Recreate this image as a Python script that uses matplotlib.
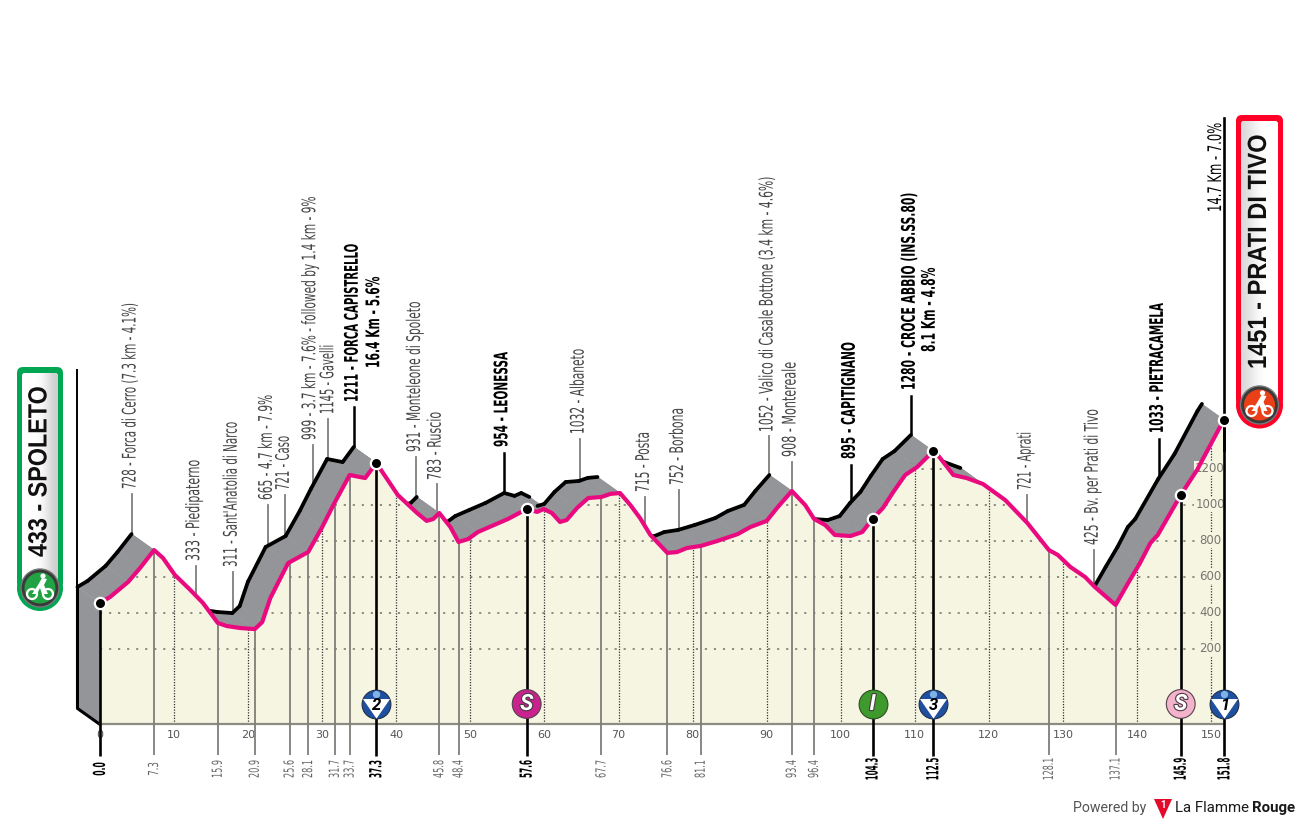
import numpy as np
import matplotlib
matplotlib.use('Agg')
import matplotlib.pyplot as plt
from matplotlib.patches import Circle, FancyBboxPatch, Polygon
from matplotlib.patheffects import AbstractPathEffect, withStroke
from matplotlib.transforms import Affine2D, blended_transform_factory

# race profile (pink line)
dist_km = [0, 1.35, 3.8, 5.4, 7.3, 8.5, 10.1, 12.2, 13.9, 15.9, 17.1, 18.9, 20.9, 21.9, 23.0, 25.4, 28.1,
           30.0, 31.5, 33.7, 35.8, 37.3, 40.2, 42.8, 44.1, 45.0, 45.8, 47.3, 48.4, 49.7, 51.0, 52.9, 55.1,
           57.6, 59.0, 59.9, 61.0, 62.1, 63.0, 64.4, 65.9, 67.7, 68.9, 70.2, 71.6, 72.9, 74.3, 76.6, 77.9,
           79.2, 81.1, 83.3, 86.1, 87.8, 90.0, 91.5, 93.4, 95.2, 96.4, 97.9, 99.2, 101.3, 102.9, 104.3,
           105.7, 107.1, 108.7, 110.3, 112.5, 113.1, 115.2, 117.0, 119.2, 122.2, 125.2, 128.1, 129.3,
           131.0, 133.0, 134.3, 137.1, 138.8, 140.4, 141.8, 142.8, 145.9, 148.1, 151.2, 151.8]
elev_m = [454, 487, 571, 648, 748, 704, 610, 526, 454, 343, 326, 315, 309, 348, 482, 676, 737,
          876, 998, 1165, 1148, 1232, 1054, 954, 910, 921, 954, 876, 793, 809, 848, 882, 921,
          976, 960, 976, 954, 904, 915, 982, 1037, 1043, 1060, 1065, 998, 926, 832, 732, 737,
          759, 771, 798, 837, 876, 910, 987, 1076, 998, 921, 887, 832, 826, 848, 921,
          982, 1071, 1165, 1209, 1298, 1276, 1165, 1148, 1115, 1026, 898, 748, 721,
          654, 598, 543, 443, 565, 676, 787, 832, 1054, 1193, 1432, 1471]

km_ticks = [0, 10, 20, 30, 40, 50, 60, 70, 80, 90, 100, 110, 120, 130, 140, 150]
alt_ticks = [200, 400, 600, 800, 1000, 1200]

# kilometre points along the bottom
point_km = ['7.3', '15.9', '20.9', '25.6', '28.1', '31.7', '33.7', '45.8', '48.4', '67.7', '76.6', '81.1',
            '93.4', '96.4', '128.1', '137.1']
main_km = ['0.0', '37.3', '57.6', '104.3', '112.5', '145.9', '151.8']

# names above the profile, with the km their stem stands at
place_names = ['728 - Forca di Cerro (7.3 km - 4.1%)', '333 - Piedipaterno', "311 - Sant'Anatolia di Narco",
               '665 - 4.7 km - 7.9%', '721 - Caso', '999 - 3.7 km - 7.6% - followed by 1.4 km - 9%',
               '1145 - Gavelli', '931 - Monteleone di Spoleto', '783 - Ruscio', '1032 - Albaneto',
               '715 - Posta', '752 - Borbona', '1052 - Valico di Casale Bottone (3.4 km - 4.6%)',
               '908 - Montereale', '721 - Aprati', '425 - Bv. per Prati di Tivo']
place_km = [4.3, 12.9, 17.96, 22.7, 25.0, 28.7, 30.8, 42.7, 45.5, 64.8, 73.6, 78.2, 90.3, 93.4, 125.15, 134.2]
main_names = ['1211 - FORCA CAPISTRELLO', '954 - LEONESSA', '895 - CAPITIGNANO',
              '1280 - CROCE ABBIO (INS.SS.80)', '1033 - PIETRACAMELA']
main_name_km = [34.3, 54.5, 101.4, 109.5, 143.0]

# layout in pixels: stem top, text bottom, text top, nudge across
place_pos = [(494, 489, 303, 0), (566, 561, 460, 0), (572, 567, 422, 0), (505, 500, 395, 0), (495, 490, 436, 0),
             (445, 440, 197, -1), (419, 414, 345, 1.5), (457, 452, 302, 0), (484, 480, 412, 0), (439, 434, 349, 0),
             (497, 492, 432, 0), (490, 485, 408, 0), (436, 432, 177, 0), (462, 457, 362, 0), (495, 490, 432, 0),
             (550, 545, 409, 0)]
main_pos = [(407, 402, 244), (453, 447, 352), (465, 459, 342), (396, 390, 193), (439, 433, 303)]

GREY = '#939598'
PINK = '#ea0a80'
PALE = '#f5f5e2'
STEM = '#7f7f7a'
NARROW = ['Liberation Sans Narrow', 'DejaVu Sans']
BOLD_FONT = ['Roboto', 'DejaVu Sans']
BADGE_FONT = ['Liberation Sans', 'DejaVu Sans']

BASE_M = -221          # altitude of the bottom line
SHIFT_KM = -3.04       # offset of the grey wall
SHIFT_M = 89
MEDAL_M = -107
PX_KM = 7.407


class Squeeze(AbstractPathEffect):
    # the lettering of the original is much narrower than any installed font
    def __init__(self, pivot, k):
        super().__init__()
        self.pivot = pivot
        self.k = k

    def draw_path(self, renderer, gc, tpath, affine, rgbFace=None):
        a = affine + Affine2D().translate(0, -self.pivot).scale(1, self.k).translate(0, self.pivot)
        renderer.draw_path(gc, tpath, a, rgbFace)


fig = plt.figure(figsize=(13, 8.25), dpi=100)
ax = fig.add_axes([0, 0, 1, 1])
ax.set_xlim(-13.5, 162.0)
ax.set_ylim(-779.5, 3804)
ax.axis('off')
pix = fig.add_axes([0, 0, 1, 1], zorder=5)
pix.set_xlim(0, 1300)
pix.set_ylim(825, 0)
pix.axis('off')
pix.patch.set_alpha(0)
km_px = blended_transform_factory(ax.transData, pix.transData)
renderer = fig.canvas.get_renderer()


def vtext(x, bottom, top, s, size=13.5, color='#444444', weight='normal', family=NARROW, on=None, z=12):
    mid = (bottom + top) / 2
    target = on if on is not None else ax
    t = target.text(x, mid, s, rotation=90, ha='center', va='center', fontsize=size, color=color, weight=weight,
                    family=family, transform=target.transData if on is not None else km_px, zorder=z)
    k = (bottom - top) / t.get_window_extent(renderer).height
    t.set_path_effects([Squeeze(825 - mid, k)])
    return t


x = np.array(dist_km)
y = np.array(elev_m)
sx = x + SHIFT_KM
sy = y + SHIFT_M

# grey wall, black edge only where it is not hidden behind the front
for i in range(len(x) - 1):
    ax.fill([x[i], x[i + 1], sx[i + 1], sx[i]], [y[i], y[i + 1], sy[i + 1], sy[i]],
            color=GREY, lw=0.4, zorder=2)
    if (y[i] - y[i + 1]) / (x[i + 1] - x[i]) < SHIFT_M / -SHIFT_KM:
        ax.plot(sx[i:i + 2], sy[i:i + 2], color='k', lw=2.7, solid_capstyle='round', zorder=3)
ax.fill([0, 0, SHIFT_KM, SHIFT_KM], [BASE_M, y[0], sy[0], BASE_M + SHIFT_M], color=GREY, lw=0, zorder=2)
ax.plot([SHIFT_KM, SHIFT_KM, 0], [sy[0], BASE_M + SHIFT_M, BASE_M], color='k', lw=2.2, zorder=3)
ax.plot([SHIFT_KM, SHIFT_KM], [sy[0], (684.7 - 370) * 5.556], color='k', lw=1.4, zorder=3)

front = Polygon(np.vstack([np.column_stack([x, y]), [[x[-1], BASE_M], [0, BASE_M]]]),
                closed=True, fc=PALE, ec='none', zorder=4)
ax.add_patch(front)

# altitude grid, clipped to the front
for alt in alt_ticks:
    ln, = ax.plot([0, x[-1]], [alt, alt], color='#85857c', lw=1.3, ls=(0, (1.2, 3.8)), zorder=5)
    ln.set_clip_path(front)
    ax.text(x[-1] - 1.95, alt, str(alt), ha='center', va='center', fontsize=8.5, color='#77776f', family=NARROW,
            zorder=6, bbox=dict(fc=PALE, ec='none', pad=0.8))

for k in km_ticks[1:]:
    ax.vlines(k, BASE_M, np.interp(k, x, y), color='#333333', lw=0.9, ls=(0, (1, 1.2)), zorder=5)
for k in km_ticks:
    ax.text(k, (684.7 - 735) * 5.556, str(k), ha='center', va='center', fontsize=8, color='#555555',
            family=NARROW, zorder=6)

ax.plot([0, x[-1]], [BASE_M, BASE_M], color='#8c8c82', lw=1.6, zorder=6)

# stems above the profile, the wall and the front hide their lower ends
for km, s, (st, b, tp, nudge) in zip(place_km, place_names, place_pos):
    ax.plot([km, km], [st, 700], color=STEM, lw=1.3, transform=km_px, zorder=1)
    vtext(km - 0.25 + nudge / PX_KM, b, tp, s)
for km, s, (st, b, tp) in zip(main_name_km, main_names, main_pos):
    ax.plot([km, km], [st, 700], color='k', lw=1.8, transform=km_px, zorder=1)
    vtext(km - 0.25, b, tp, s, color='k', weight='bold')
vtext(36.95, 368, 277, '16.4 Km - 5.6%', color='k', weight='bold')
vtext(111.95, 352, 268, '8.1 Km - 4.8%', color='k', weight='bold')
vtext(150.6, 212, 123, '14.7 Km - 7.0%', color='k')

# stems below the profile
for s in point_km:
    km = float(s)
    ax.vlines(km, 755, 684.7 - np.interp(km, x, y) * 0.18, color=STEM, lw=1.3, transform=km_px, zorder=6)
    vtext(km, 769 + len(s) * 2.25, 769 - len(s) * 2.25, s, size=10, color='#666666')
for s in main_km:
    km = float(s)
    ax.vlines(km, 756, 684.7 - np.interp(km, x, y) * 0.18, color='k', lw=1.9, transform=km_px, zorder=6)
    vtext(km, 769 + len(s) * 2.25, 769 - len(s) * 2.25, s, size=12, color='k', weight='bold')
ax.plot([x[-1], x[-1]], [118, 450], color='k', lw=1.9, transform=km_px, zorder=6)

ax.plot(x, y, color=PINK, lw=3.0, solid_capstyle='round', solid_joinstyle='round', zorder=7)

# route points
main_vals = [float(s) for s in main_km]
main_alts = np.interp(main_vals, x, y)
ax.scatter(main_vals, main_alts, s=95, color='white', lw=0, zorder=8)
ax.scatter(main_vals, main_alts, s=42, color='k', lw=0, zorder=9)

# medals
kom_km = [37.3, 112.5, 151.8]
kom_labels = ['2', '3', '1']
sprint_km = [57.6, 145.9]
sprint_labels = ['S', 'S']
sprint_colors = ['#c9228e', '#f3b3cb']
inter_km = [104.3]
inter_labels = ['I']
MEDAL_S = 430
TRI = [(-1, 0.7), (1, 0.7), (0, -0.75)]
outline = [withStroke(linewidth=1.6, foreground='#4a3a44')]

ax.scatter(kom_km, [MEDAL_M] * 3, s=MEDAL_S, color='#1f4f9f', ec='#22304a', lw=0.8, zorder=10)
ax.scatter(kom_km, [MEDAL_M - 21] * 3, s=378, marker=TRI, color='white', lw=0, zorder=11)
ax.scatter(kom_km, [MEDAL_M + 58] * 3, s=28, color='#7fb2e6', lw=0, zorder=11)
for k, s in zip(kom_km, kom_labels):
    ax.text(k, MEDAL_M - 6, s, ha='center', va='center', fontsize=12, color='k', weight='bold', style='italic',
            family=BOLD_FONT, zorder=12)
ax.scatter(sprint_km, [MEDAL_M] * 2, s=MEDAL_S, color=sprint_colors, ec='#55404c', lw=0.8, zorder=10)
for k, s in zip(sprint_km, sprint_labels):
    ax.text(k, MEDAL_M, s, ha='center', va='center', fontsize=16, color='white', weight='bold', style='italic',
            family=BOLD_FONT, zorder=12, path_effects=outline)
ax.scatter(inter_km, [MEDAL_M], s=MEDAL_S, color='#3f9a2d', ec='#2c4d26', lw=0.8, zorder=10)
for k, s in zip(inter_km, inter_labels):
    ax.text(k, MEDAL_M, s, ha='center', va='center', fontsize=16, color='white', weight='bold', style='italic',
            family=BOLD_FONT, zorder=12, path_effects=outline)


def bike(cx, cy):
    for dx in (-8, 8):
        pix.add_patch(Circle((cx + dx, cy + 6), 5, fc='none', ec='white', lw=1.6, zorder=4))
    pix.add_patch(Polygon([(cx - 8, cy + 6), (cx - 2, cy - 3), (cx + 2, cy - 10), (cx + 7, cy - 9), (cx + 4, cy - 3),
                           (cx + 8, cy + 6), (cx + 2, cy + 6), (cx, cy), (cx - 3, cy + 6)],
                          closed=True, fc='white', ec='none', zorder=4))
    pix.add_patch(Circle((cx + 3, cy - 12), 2.6, fc='white', ec='none', zorder=4))


def badge(x0, x1, top, cy, col, disc, s, t_bottom, t_top, shade):
    xc = (x0 + x1) / 2
    r = (x1 - x0) / 2
    pix.add_patch(FancyBboxPatch((x0, top), x1 - x0, cy - top, boxstyle='round,pad=0,rounding_size=6', fc=col,
                                 ec='none', zorder=1))
    pix.add_patch(Circle((xc, cy), r, fc=col, ec='none', zorder=1))
    inner = FancyBboxPatch((x0 + 5, top + 6), x1 - x0 - 10, cy - top - 8, boxstyle='round,pad=0,rounding_size=3',
                           fc='white', ec='none', zorder=2)
    pix.add_patch(inner)
    im = pix.imshow(np.array([shade]), cmap='gray', vmin=0, vmax=1, aspect='auto', interpolation='bicubic',
                    extent=(x0 + 5, x1 - 5, cy, top + 6), zorder=2)
    im.set_clip_path(inner)
    pix.set_xlim(0, 1300)
    pix.set_ylim(825, 0)
    pix.add_patch(Circle((xc, cy), 19, fc='#3a3a3a', ec='#777777', lw=1, zorder=3))
    pix.add_patch(Circle((xc, cy), 15.5, fc=disc, ec='none', zorder=3))
    bike(xc, cy)
    vtext(xc - 0.5, t_bottom, t_top, s, size=19, color='#111111', weight='bold', family=BADGE_FONT, on=pix)


badge(17, 63, 367, 588, '#00a651', '#22a243', '433 - SPOLETO', 557, 386, [1.0, 1.0, 0.96, 0.8])
badge(1236, 1283, 115, 405, '#ff0027', '#ea3f17', '1451 - PRATI DI TIVO', 369, 135, [0.85, 0.95, 1.0, 1.0])

# footer
pix.text(1073, 808, 'Powered by', ha='left', va='center', fontsize=10.2, color='#555555', family=BOLD_FONT)
pix.add_patch(Polygon([(1154, 799), (1172, 799), (1163, 819)], closed=True, fc='#e30a2b', ec='none'))
pix.text(1163, 805.5, '1', ha='center', va='center', fontsize=7, color='white', weight='bold', family=BOLD_FONT)
pix.text(1175, 808, 'La Flamme', ha='left', va='center', fontsize=10.8, color='#1a1a1a', family=BOLD_FONT)
pix.text(1295, 808, 'Rouge', ha='right', va='center', fontsize=10.8, color='#1a1a1a', weight='bold', family=BOLD_FONT)

fig.savefig('out.png', dpi=100)
